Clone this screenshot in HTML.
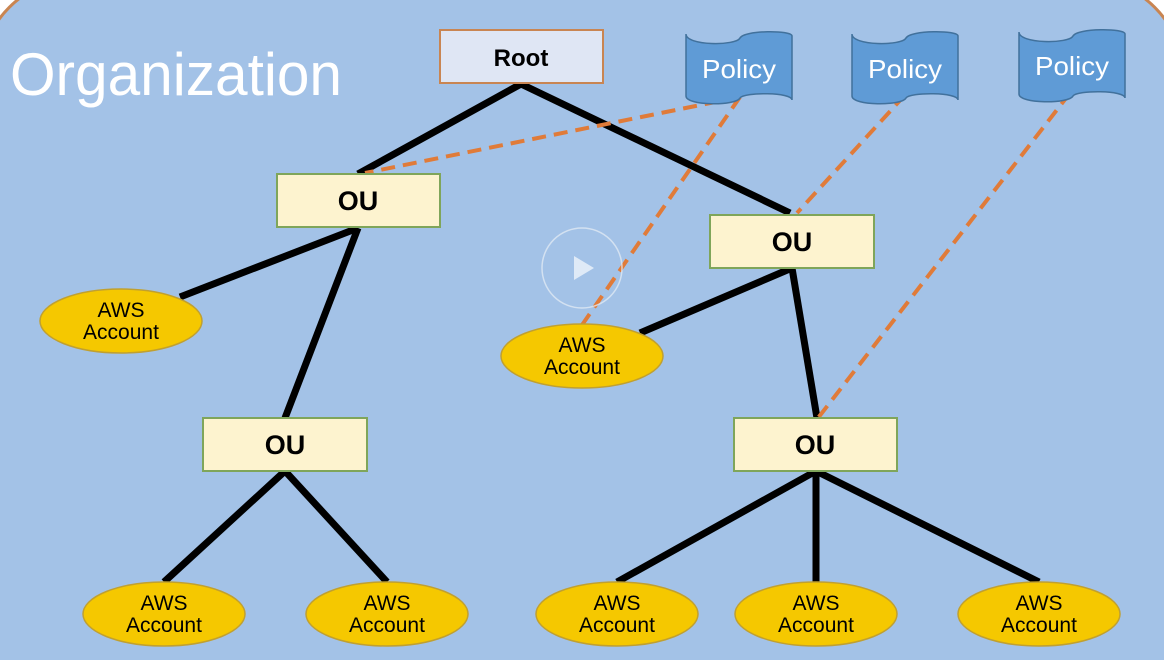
<!DOCTYPE html>
<html><head><meta charset="utf-8"><style>
html,body{margin:0;padding:0;background:#fff;width:1164px;height:660px;overflow:hidden}
svg{display:block}
text{font-family:"Liberation Sans",sans-serif}
</style></head><body>
<svg width="1164" height="660" viewBox="0 0 1164 660" xmlns="http://www.w3.org/2000/svg">
<path d="M-20,680 L-20,78 A100,100 0 0 1 80,-22 L1084,-22 A100,100 0 0 1 1184,78 L1184,680 Z" fill="#a3c2e7" stroke="#c98552" stroke-width="3"/>
<text x="10" y="95" font-size="60" fill="#fff" textLength="332" lengthAdjust="spacingAndGlyphs">Organization</text>

<g stroke="#000" stroke-width="7" stroke-linecap="butt">
<line x1="521" y1="84" x2="358" y2="174"/>
<line x1="521" y1="84" x2="790" y2="213"/>
<line x1="358" y1="228" x2="180" y2="297"/>
<line x1="358" y1="228" x2="285" y2="418"/>
<line x1="792" y1="268" x2="640" y2="333"/>
<line x1="792" y1="268" x2="817" y2="418"/>
<line x1="285" y1="471" x2="164" y2="582"/>
<line x1="285" y1="471" x2="387" y2="582"/>
<line x1="816" y1="471" x2="617" y2="582"/>
<line x1="816" y1="471" x2="816" y2="582"/>
<line x1="816" y1="471" x2="1039" y2="582"/>
</g>
<g stroke="#e07b39" stroke-width="4" stroke-dasharray="14,8" fill="none">
<line x1="740" y1="97" x2="365" y2="173"/>
<line x1="740" y1="97" x2="582" y2="325"/>
<line x1="905" y1="95" x2="797" y2="213"/>
<line x1="1070" y1="93" x2="818" y2="418"/>
</g>

<rect x="440" y="30" width="163" height="53" fill="#dfe6f4" stroke="#c98552" stroke-width="2"/>
<text x="521" y="66" font-size="24" font-weight="bold" text-anchor="middle">Root</text>

<g fill="#fdf3cf" stroke="#7fa55a" stroke-width="2">
<rect x="277" y="174" width="163" height="53"/>
<rect x="710" y="215" width="164" height="53"/>
<rect x="203" y="418" width="164" height="53"/>
<rect x="734" y="418" width="163" height="53"/>
</g>
<g font-size="27" font-weight="bold" text-anchor="middle">
<text x="358" y="210">OU</text>
<text x="792" y="251">OU</text>
<text x="285" y="454">OU</text>
<text x="815" y="454">OU</text>
</g>

<g fill="#f5c800" stroke="#c0a030" stroke-width="1.5">
<ellipse cx="121" cy="321" rx="81" ry="32"/>
<ellipse cx="582" cy="356" rx="81" ry="32"/>
<ellipse cx="164" cy="614" rx="81" ry="32"/>
<ellipse cx="387" cy="614" rx="81" ry="32"/>
<ellipse cx="617" cy="614" rx="81" ry="32"/>
<ellipse cx="816" cy="614" rx="81" ry="32"/>
<ellipse cx="1039" cy="614" rx="81" ry="32"/>
</g>
<g font-size="21" text-anchor="middle" fill="#000">
<text x="121" y="317">AWS</text><text x="121" y="339">Account</text>
<text x="582" y="352">AWS</text><text x="582" y="374">Account</text>
<text x="164" y="610">AWS</text><text x="164" y="632">Account</text>
<text x="387" y="610">AWS</text><text x="387" y="632">Account</text>
<text x="617" y="610">AWS</text><text x="617" y="632">Account</text>
<text x="816" y="610">AWS</text><text x="816" y="632">Account</text>
<text x="1039" y="610">AWS</text><text x="1039" y="632">Account</text>
</g>

<defs>
<path id="flag" d="M0,0 C0,12 50,12 54,4 C58,-4 106,-4 106,2 L106,66 C106,58 58,58 54,64 C50,72 0,72 0,62 Z" fill="#5f9bd6" stroke="#41719c" stroke-width="1.5"/>
</defs>
<use href="#flag" x="686" y="34"/>
<use href="#flag" x="852" y="34"/>
<use href="#flag" x="1019" y="32"/>
<g font-size="26" fill="#fff" text-anchor="middle">
<text x="739" y="78" textLength="74" lengthAdjust="spacingAndGlyphs">Policy</text>
<text x="905" y="78" textLength="74" lengthAdjust="spacingAndGlyphs">Policy</text>
<text x="1072" y="75" textLength="74" lengthAdjust="spacingAndGlyphs">Policy</text>
</g>

<circle cx="582" cy="268" r="40" fill="none" stroke="#dfe8f4" stroke-width="1.5" opacity="0.8"/>
<path d="M574,256 L574,280 L594,268 Z" fill="#e6eef8" opacity="0.9"/>
</svg>
</body></html>
